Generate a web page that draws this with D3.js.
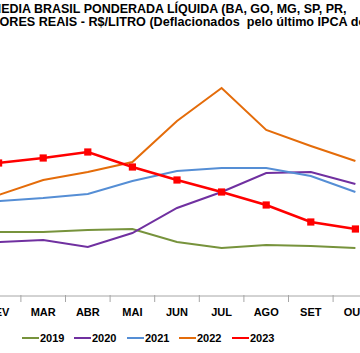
<!DOCTYPE html>
<html><head><meta charset="utf-8">
<script src="https://cdn.jsdelivr.net/npm/d3@7"></script>
<style>html,body{margin:0;padding:0;background:#fff;overflow:hidden}svg{display:block}</style>
</head><body>
<script>
const months = ["JAN","FEV","MAR","ABR","MAI","JUN","JUL","AGO","SET","OUT","NOV","DEZ"];
const visMonths = ["FEV","MAR","ABR","MAI","JUN","JUL","AGO","SET","OUT"];
const s2019 = [2.14,2.14,2.16,2.17,2.04,1.98,2.01,2.00,1.98];
const s2020 = [2.04,2.06,1.99,2.13,2.38,2.54,2.73,2.74,2.62];
const s2021 = [2.45,2.48,2.52,2.65,2.75,2.78,2.78,2.70,2.54];
const s2022 = [2.51,2.66,2.74,2.84,3.25,3.58,3.16,3.00,2.85];
const s2023 = [2.83,2.88,2.94,2.79,2.66,2.54,2.41,2.24,2.17];
const seriesNames = ["2019","2020","2021","2022","2023"];
const colors = ["#77933C","#7030A0","#558ED5","#E46C0A","#FF0000"];
const title1a = "MEDIA BRASIL PONDERADA LÍQUIDA (BA, GO, MG, SP, PR,";
const title1b = "SC e RS)";
const title2 = "VALORES REAIS - R$/LITRO (Deflacionados  pelo último IPCA do mês)";

const W=360,H=353;
const svg=d3.select("body").append("svg").attr("width",W).attr("height",H);
const font="Liberation Sans, Arial, sans-serif";

// measure helper
const tmp=svg.append("text").attr("font-family",font).attr("font-weight","bold").attr("font-size",12.7).attr("xml:space","preserve");
function w(s){tmp.text(s);return tmp.node().getComputedTextLength();}
const fs1=12.7*345/w(title1a.slice(1));
const fs2=12.7*359/w("ORES REAIS - R$/LITRO (Deflacionados  pelo último IPCA d");
tmp.attr("font-size",fs1); const wM=w("M");
tmp.attr("font-size",fs2); const wVAL=w("VAL");
tmp.remove();

const t1=svg.append("text").attr("x",1.2-wM).attr("y",12.5).attr("font-family",font).attr("font-weight","bold").attr("font-size",fs1).attr("fill","#000");
t1.append("tspan").text(title1a);
t1.append("tspan").attr("dx",18).text(title1b);
svg.append("text").attr("x",-0.5-wVAL).attr("y",25.5).attr("font-family",font).attr("font-weight","bold").attr("font-size",fs2).attr("fill","#000").attr("xml:space","preserve").text(title2);

const x=d3.scaleBand().domain(months).range([-68.3,466.9]).padding(0);
const y=d3.scaleLinear().domain([1.5,3.8]).range([296,66]);
const axisY=296;

// axis line
svg.append("line").attr("x1",0).attr("x2",W).attr("y1",axisY).attr("y2",axisY).attr("stroke","#A6A6A6").attr("stroke-width",1);
// ticks at band edges
const edges=months.slice(1).map(m=>x(m));
svg.selectAll(".tk").data(edges).enter().append("line")
  .attr("x1",d=>d).attr("x2",d=>d).attr("y1",axisY-1).attr("y2",axisY+6)
  .attr("stroke","#A6A6A6").attr("stroke-width",1);
// labels
svg.selectAll(".lb").data(months).enter().append("text")
  .attr("x",d=>x(d)+x.bandwidth()/2).attr("y",316)
  .attr("text-anchor","middle").attr("font-family",font).attr("font-weight","bold").attr("font-size",11)
  .attr("fill","#000").text(d=>d);

const allSeries=[s2019,s2020,s2021,s2022,s2023];
const line=d3.line().x((d,i)=>x(visMonths[i])+x.bandwidth()/2).y(d=>y(d));
allSeries.forEach((s,k)=>{
  svg.append("path").datum(s).attr("d",line).attr("fill","none")
    .attr("stroke",colors[k]).attr("stroke-width",k===4?2.5:2).attr("stroke-linejoin","miter");
});
// markers for 2023
svg.selectAll(".mk").data(s2023).enter().append("rect")
  .attr("x",(d,i)=>x(visMonths[i])+x.bandwidth()/2-3.6).attr("y",d=>y(d)-3.6)
  .attr("width",7.2).attr("height",7.2).attr("fill","#FF0000");

// legend
const legX=[22,74,127,179,232];
const lg=svg.selectAll(".lg").data(seriesNames).enter().append("g");
lg.append("line").attr("x1",(d,i)=>legX[i]).attr("x2",(d,i)=>legX[i]+17).attr("y1",338).attr("y2",338)
  .attr("stroke",(d,i)=>colors[i]).attr("stroke-width",2);
lg.append("text").attr("x",(d,i)=>legX[i]+18).attr("y",342).attr("font-family",font).attr("font-weight","bold")
  .attr("font-size",11).attr("fill","#000").text(d=>d);
</script>
</body></html>
